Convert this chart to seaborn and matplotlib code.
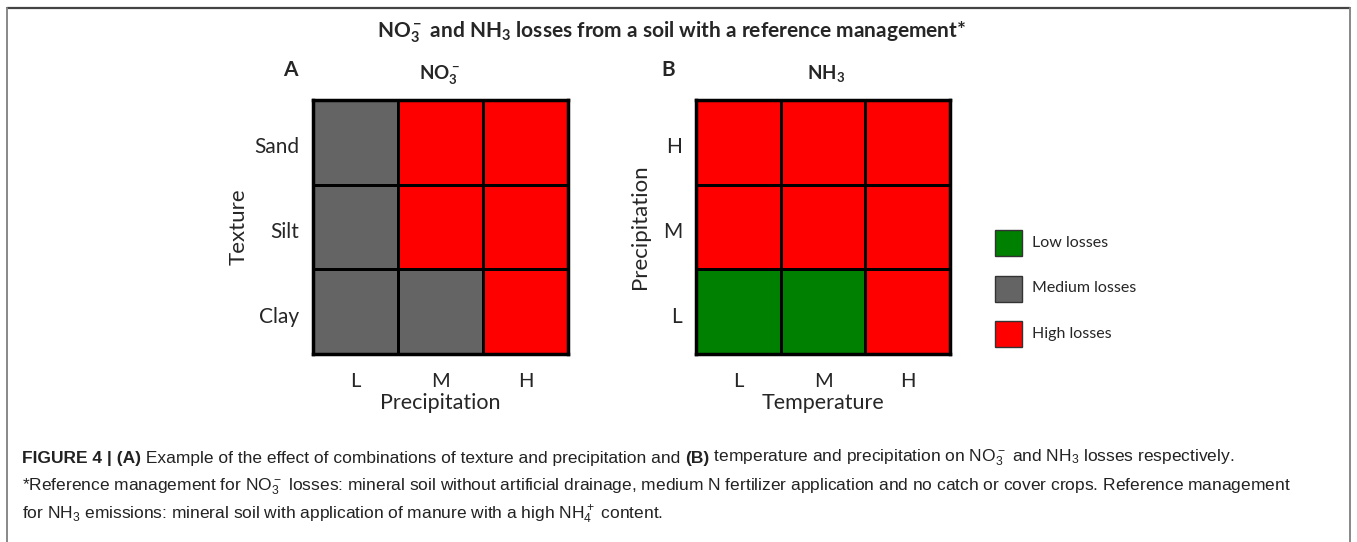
import matplotlib
matplotlib.use("Agg")
import matplotlib.pyplot as plt
import matplotlib.transforms as mtransforms
import seaborn as sns
import numpy as np
import pandas as pd
from matplotlib.colors import ListedColormap
from matplotlib.patches import Rectangle
from matplotlib.lines import Line2D

sns.set_theme(style="white")
plt.rcParams['font.family'] = ['Lato', 'DejaVu Sans']

# ---- data ----
levels = ["Low losses", "Medium losses", "High losses"]
level_colors = ["#008000", "#646464", "#FF0000"]

a_rows = ["Sand", "Silt", "Clay"]
a_cols = ["L", "M", "H"]
a_values = [[1, 2, 2],
            [1, 2, 2],
            [1, 1, 2]]

b_rows = ["H", "M", "L"]
b_cols = ["L", "M", "H"]
b_values = [[2, 2, 2],
            [2, 2, 2],
            [0, 0, 2]]

W, H = 1357, 542
fig = plt.figure(figsize=(W / 100, H / 100), dpi=100)

def px_axes(x0, y0, x1, y1):
    return fig.add_axes([x0 / W, 1 - y1 / H, (x1 - x0) / W, (y1 - y0) / H])

cmap = ListedColormap(level_colors)
shift = mtransforms.ScaledTranslation(0, -5 / 100, fig.dpi_scale_trans)

def draw(ax, rows, cols, vals, xlabel, ylabel, ypad):
    df = pd.DataFrame(vals, index=rows, columns=cols)
    sns.heatmap(df, ax=ax, cmap=cmap, vmin=-0.5, vmax=2.5, cbar=False,
                linewidths=2, linecolor="black", square=False)
    for s in ax.spines.values():
        s.set_visible(True)
        s.set_color("black")
        s.set_linewidth(2.5)
    ax.tick_params(axis="x", length=0, labelsize=14.5, pad=14)
    ax.tick_params(axis="y", length=0, labelsize=15, pad=10)
    ax.set_yticklabels(rows, rotation=0)
    ax.set_xticklabels(cols, rotation=0)
    for lab in ax.get_yticklabels():
        lab.set_transform(lab.get_transform() + shift)
    ax.set_xlabel(xlabel, fontsize=15.5, labelpad=2)
    ax.set_ylabel(ylabel, fontsize=16, labelpad=ypad)

axA = px_axes(313, 100, 568, 354)
draw(axA, a_rows, a_cols, a_values, "Precipitation", "Texture", 4)
axB = px_axes(696, 100, 950, 354)
draw(axB, b_rows, b_cols, b_values, "Temperature", "Precipitation", 9)

# titles
fig.text(672 / W, 1 - 32 / H, r"$\mathregular{NO_3^-}$ and $\mathregular{NH_3}$ losses from a soil with a reference management*",
         ha="center", va="center", fontsize=15, fontweight="bold")
fig.text(290 / W, 1 - 70 / H, "A", ha="center", va="center", fontsize=15, fontweight="bold")
fig.text(668 / W, 1 - 70 / H, "B", ha="center", va="center", fontsize=15, fontweight="bold")
fig.text(440 / W, 1 - 74 / H, r"$\mathregular{NO_3^-}$", ha="center", va="center", fontsize=13.5, fontweight="bold")
fig.text(826 / W, 1 - 74 / H, r"$\mathregular{NH_3}$", ha="center", va="center", fontsize=13.5, fontweight="bold")

# legend
for i, (lab, col) in enumerate(zip(levels, level_colors)):
    y0 = 230 + i * 45.5
    fig.add_artist(Rectangle((995 / W, 1 - (y0 + 26) / H), 27 / W, 26 / H,
                             facecolor=col, edgecolor="#333333", linewidth=1,
                             transform=fig.transFigure))
    fig.text(1032 / W, 1 - (y0 + 13) / H, lab, ha="left", va="center", fontsize=11.5)

# frame
fig.add_artist(Line2D([7 / W, 1350 / W], [1 - 8 / H, 1 - 8 / H], color="#444444", lw=1.6, transform=fig.transFigure))
fig.add_artist(Line2D([7 / W, 7 / W], [0, 1 - 8 / H], color="#888888", lw=1.4, transform=fig.transFigure))
fig.add_artist(Line2D([1350 / W, 1350 / W], [0, 1 - 8 / H], color="#888888", lw=1.4, transform=fig.transFigure))

# caption
cap_font = ['Liberation Sans Narrow', 'Liberation Sans', 'DejaVu Sans']
lines = [
    [("FIGURE 4 | (A)", "bold"), (" Example of the effect of combinations of texture and precipitation and ", "normal"),
     ("(B)", "bold"), (r" temperature and precipitation on $\mathregular{NO_3^-}$ and $\mathregular{NH_3}$ losses respectively.", "normal")],
    [(r"*Reference management for $\mathregular{NO_3^-}$ losses: mineral soil without artificial drainage, medium N fertilizer application and no catch or cover crops. Reference management", "normal")],
    [(r"for $\mathregular{NH_3}$ emissions: mineral soil with application of manure with a high $\mathregular{NH_4^+}$ content.", "normal")],
]
ys = [458, 487, 515]
fig.canvas.draw()
renderer = fig.canvas.get_renderer()
for parts, yy in zip(lines, ys):
    x = 22 / W
    for txt, wt in parts:
        t = fig.text(x, 1 - yy / H, txt, ha="left", va="center", fontsize=12.5,
                     fontweight=wt, family=cap_font, color="#222222")
        bb = t.get_window_extent(renderer=renderer)
        x = bb.x1 / W

fig.savefig("out.png", dpi=100)
